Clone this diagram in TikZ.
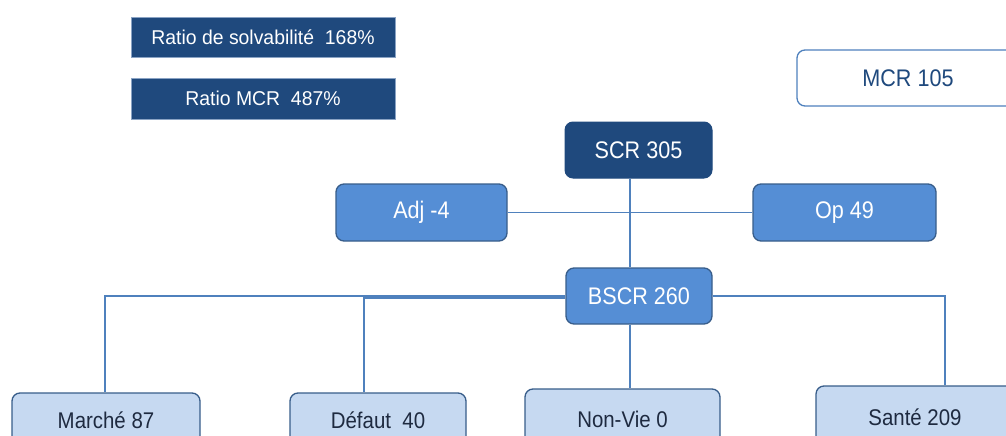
\documentclass[tikz,border=0pt]{standalone}
\usepackage{fontspec}
\setmainfont{Liberation Sans}
\newfontfamily\condf[FakeStretch=0.9]{Liberation Sans}
\newfontfamily\ratiof[FakeStretch=0.97]{Liberation Sans}
\usetikzlibrary{backgrounds}
\definecolor{dk}{HTML}{1F497D}
\definecolor{md}{HTML}{558ED5}
\definecolor{bd}{HTML}{385D8A}
\definecolor{lt}{HTML}{C6D9F1}
\definecolor{ln}{HTML}{4F81BD}
\definecolor{tx}{HTML}{1E2A40}
\definecolor{rb}{HTML}{8AA3C4}
\tikzset{
  ratiobox/.style={fill=dk, draw=rb, line width=0.8pt, text=white, minimum width=264pt, inner sep=0pt, font=\ratiof\fontsize{20}{23}\selectfont},
  darkbox/.style={fill=dk, draw=dk, line width=1pt, rounded corners=8pt, text=white, inner sep=0pt, font=\condf\fontsize{24}{27}\selectfont},
  midbox/.style={fill=md, draw=bd, line width=1.3pt, rounded corners=8pt, text=white, inner sep=0pt, font=\condf\fontsize{24}{27}\selectfont},
  lightbox/.style={fill=lt, draw=bd, line width=1.3pt, rounded corners=8pt, text=tx, inner sep=0pt, font=\condf\fontsize{22.7}{26}\selectfont},
  whitebox/.style={fill=white, draw=ln, line width=1.3pt, rounded corners=8pt, text=dk, inner sep=0pt, font=\condf\fontsize{24}{27}\selectfont},
  conn/.style={draw=ln, line width=1.1pt}
}
\begin{document}
\begin{tikzpicture}[x=1pt,y=-1pt]
\useasboundingbox (0,0) rectangle (1006,436);
\clip (0,0) rectangle (1006,436);

\node[ratiobox, minimum height=40pt] (r1) at (263,37) {Ratio de solvabilité\ \ 168\%};
\node[ratiobox, minimum height=41pt] (r2) at (263,98.5) {Ratio MCR\ \ 487\%};

\node[whitebox, minimum width=222pt, minimum height=56pt] (mcr) at (908,78) {MCR 105};

\node[darkbox, minimum width=147pt, minimum height=56pt] (scr) at (638.5,150) {SCR 305};
\node[midbox, minimum width=171pt, minimum height=57pt] (adj) at (421.5,212.5) {Adj -4};
\node[midbox, minimum width=183pt, minimum height=57pt] (op) at (844.5,212.5) {Op 49};
\node[midbox, minimum width=146pt, minimum height=56pt] (bscr) at (639,296) {BSCR 260};

\node[lightbox, minimum width=188pt, minimum height=55pt] (marche) at (106,420.5) {Marché 87};
\node[lightbox, minimum width=176pt, minimum height=55pt] (defaut) at (378,420.5) {Défaut\ \ 40};
\node[lightbox, minimum width=195pt, minimum height=61pt] (nonvie) at (622.5,419.5) {Non-Vie 0};
\node[lightbox, minimum width=198pt, minimum height=62pt] (sante) at (915,417) {Santé 209};

\begin{pgfonlayer}{background}
\draw[conn] ([xshift=-8.5pt]scr.south) -- ([xshift=-9pt]bscr.north);
\draw[conn] (adj.east) -- (op.west);
\draw[conn] (bscr.west) -| ([xshift=-1pt]marche.north);
\draw[conn] ([yshift=-2pt]bscr.west) -| ([xshift=-14pt]defaut.north);
\draw[conn] ([xshift=-9pt]bscr.south) -- ([xshift=7.5pt]nonvie.north);
\draw[conn] (bscr.east) -| ([xshift=30pt]sante.north);
\end{pgfonlayer}
\end{tikzpicture}
\end{document}
